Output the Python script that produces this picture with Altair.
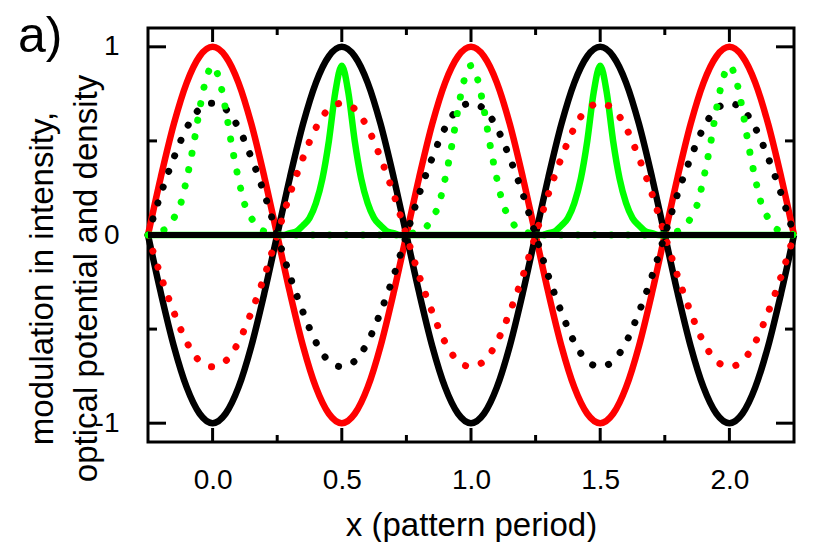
import altair as alt
import pandas as pd

# ---- sample positions (pattern period units) ----
x_coarse = [-0.25, -0.2, -0.15, -0.1, -0.05, 0.0, 0.05, 0.1, 0.15, 0.2,
            0.25, 0.3, 0.35, 0.4, 0.45, 0.5, 0.55, 0.6, 0.65, 0.7,
            0.75, 0.8, 0.85, 0.9, 0.95, 1.0, 1.05, 1.1, 1.15, 1.2,
            1.25, 1.3, 1.35, 1.4, 1.45, 1.5, 1.55, 1.6, 1.65, 1.7,
            1.75, 1.8, 1.85, 1.9, 1.95, 2.0, 2.05, 2.1, 2.15, 2.2,
            2.25]

red_solid = [0, 0.31, 0.59, 0.81, 0.95, 1.0, 0.95, 0.81, 0.59, 0.31,
             0, -0.31, -0.59, -0.81, -0.95, -1.0, -0.95, -0.81, -0.59, -0.31,
             0, 0.31, 0.59, 0.81, 0.95, 1.0, 0.95, 0.81, 0.59, 0.31,
             0, -0.31, -0.59, -0.81, -0.95, -1.0, -0.95, -0.81, -0.59, -0.31,
             0, 0.31, 0.59, 0.81, 0.95, 1.0, 0.95, 0.81, 0.59, 0.31,
             0]

black_solid = [0, -0.31, -0.59, -0.81, -0.95, -1.0, -0.95, -0.81, -0.59, -0.31,
               0, 0.31, 0.59, 0.81, 0.95, 1.0, 0.95, 0.81, 0.59, 0.31,
               0, -0.31, -0.59, -0.81, -0.95, -1.0, -0.95, -0.81, -0.59, -0.31,
               0, 0.31, 0.59, 0.81, 0.95, 1.0, 0.95, 0.81, 0.59, 0.31,
               0, -0.31, -0.59, -0.81, -0.95, -1.0, -0.95, -0.81, -0.59, -0.31,
               0]

red_dotted = [0, -0.22, -0.41, -0.57, -0.67, -0.70, -0.67, -0.57, -0.41, -0.22,
              0, 0.22, 0.41, 0.57, 0.67, 0.70, 0.67, 0.57, 0.41, 0.22,
              0, -0.22, -0.41, -0.57, -0.67, -0.70, -0.67, -0.57, -0.41, -0.22,
              0, 0.22, 0.41, 0.57, 0.67, 0.70, 0.67, 0.57, 0.41, 0.22,
              0, -0.22, -0.41, -0.57, -0.67, -0.70, -0.67, -0.57, -0.41, -0.22,
              0]

black_dotted = [0, 0.22, 0.41, 0.57, 0.67, 0.70, 0.67, 0.57, 0.41, 0.22,
                0, -0.22, -0.41, -0.57, -0.67, -0.70, -0.67, -0.57, -0.41, -0.22,
                0, 0.22, 0.41, 0.57, 0.67, 0.70, 0.67, 0.57, 0.41, 0.22,
                0, -0.22, -0.41, -0.57, -0.67, -0.70, -0.67, -0.57, -0.41, -0.22,
                0, 0.22, 0.41, 0.57, 0.67, 0.70, 0.67, 0.57, 0.41, 0.22,
                0]

x_fine = [-0.25, -0.225, -0.2, -0.175, -0.15, -0.125, -0.1, -0.075, -0.05, -0.025,
          0.0, 0.025, 0.05, 0.075, 0.1, 0.125, 0.15, 0.175, 0.2, 0.225,
          0.25, 0.275, 0.3, 0.325, 0.35, 0.375, 0.4, 0.425, 0.45, 0.475,
          0.5, 0.525, 0.55, 0.575, 0.6, 0.625, 0.65, 0.675, 0.7, 0.725,
          0.75, 0.775, 0.8, 0.825, 0.85, 0.875, 0.9, 0.925, 0.95, 0.975,
          1.0, 1.025, 1.05, 1.075, 1.1, 1.125, 1.15, 1.175, 1.2, 1.225,
          1.25, 1.275, 1.3, 1.325, 1.35, 1.375, 1.4, 1.425, 1.45, 1.475,
          1.5, 1.525, 1.55, 1.575, 1.6, 1.625, 1.65, 1.675, 1.7, 1.725,
          1.75, 1.775, 1.8, 1.825, 1.85, 1.875, 1.9, 1.925, 1.95, 1.975,
          2.0, 2.025, 2.05, 2.075, 2.1, 2.125, 2.15, 2.175, 2.2, 2.225,
          2.25]

green_dotted = [0, 0.01, 0.02, 0.04, 0.09, 0.16, 0.30, 0.47, 0.67, 0.83,
                0.90, 0.83, 0.67, 0.47, 0.30, 0.16, 0.09, 0.04, 0.02, 0.01,
                0, 0, 0, 0, 0, 0, 0, 0, 0, 0,
                0, 0, 0, 0, 0, 0, 0, 0, 0, 0,
                0, 0.01, 0.02, 0.04, 0.09, 0.16, 0.30, 0.47, 0.67, 0.83,
                0.90, 0.83, 0.67, 0.47, 0.30, 0.16, 0.09, 0.04, 0.02, 0.01,
                0, 0, 0, 0, 0, 0, 0, 0, 0, 0,
                0, 0, 0, 0, 0, 0, 0, 0, 0, 0,
                0, 0.01, 0.02, 0.04, 0.09, 0.16, 0.30, 0.47, 0.67, 0.83,
                0.90, 0.83, 0.67, 0.47, 0.30, 0.16, 0.09, 0.04, 0.02, 0.01,
                0]

green_solid = [0, 0, 0, 0, 0, 0, 0, 0, 0, 0,
               0, 0, 0, 0, 0, 0, 0, 0, 0, 0,
               0, 0, 0.01, 0.02, 0.05, 0.09, 0.17, 0.30, 0.50, 0.76,
               0.90, 0.76, 0.50, 0.30, 0.17, 0.09, 0.05, 0.02, 0.01, 0,
               0, 0, 0, 0, 0, 0, 0, 0, 0, 0,
               0, 0, 0, 0, 0, 0, 0, 0, 0, 0,
               0, 0, 0.01, 0.02, 0.05, 0.09, 0.17, 0.30, 0.50, 0.76,
               0.90, 0.76, 0.50, 0.30, 0.17, 0.09, 0.05, 0.02, 0.01, 0,
               0, 0, 0, 0, 0, 0, 0, 0, 0, 0,
               0, 0, 0, 0, 0, 0, 0, 0, 0, 0,
               0]

x_major_ticks = [0.0, 0.5, 1.0, 1.5, 2.0]
x_minor_ticks = [0.25, 0.75, 1.25, 1.75]
y_major_ticks = [-1, 0, 1]
y_minor_ticks = [-0.5, 0.5]

X_TITLE = "x (pattern period)"
Y_TITLE = ["modulation in intensity,", "optical potential and density"]
PANEL = "a)"

W, H = 646, 414
FONT = "Liberation Sans"
RED, BLACK, GREEN = "#ff0000", "#000000", "#00ff00"

xs = alt.Scale(domain=[-0.25, 2.25], nice=False, zero=False)
ys = alt.Scale(domain=[-1.1, 1.1], nice=False, zero=False)


def df(x, y):
    return pd.DataFrame({"x": x, "y": y})


x_axis = alt.Axis(values=x_major_ticks, format=".1f",
                  title=X_TITLE, titleY=93)
y_axis = alt.Axis(values=y_major_ticks,
                  labelExpr="datum.value < 0 ? '-' + format(-datum.value, 'd') : format(datum.value, 'd')",
                  title=Y_TITLE, titleX=-96, titleY=250)


def curve(x, y, color, dotted=False, first=False):
    if dotted:
        m = alt.Chart(df(x, y)).mark_line(color=color, strokeWidth=7,
                                          strokeDash=[0.1, 16.6],
                                          strokeCap="round",
                                          interpolate="monotone")
    else:
        m = alt.Chart(df(x, y)).mark_line(color=color, strokeWidth=6.5,
                                          interpolate="monotone")
    if first:
        return m.encode(x=alt.X("x:Q", scale=xs, axis=x_axis),
                        y=alt.Y("y:Q", scale=ys, axis=y_axis))
    return m.encode(x=alt.X("x:Q", scale=xs), y=alt.Y("y:Q", scale=ys))


zero_line = alt.Chart(pd.DataFrame({"y": [0]})).mark_rule(
    color=BLACK, strokeWidth=6).encode(y=alt.Y("y:Q", scale=ys))


def yticks(vals, length, side):
    x0 = 0 if side == "left" else W
    x1 = length if side == "left" else W - length
    return alt.Chart(pd.DataFrame({"y": vals})).mark_rule(
        color=BLACK, strokeWidth=3).encode(
        y=alt.Y("y:Q", scale=ys),
        x=alt.value(x0), x2=alt.value(x1))


def xticks(vals, length, side):
    y0 = H if side == "bottom" else 0
    y1 = H - length if side == "bottom" else length
    return alt.Chart(pd.DataFrame({"x": vals})).mark_rule(
        color=BLACK, strokeWidth=3).encode(
        x=alt.X("x:Q", scale=xs),
        y=alt.value(y0), y2=alt.value(y1))


layers = [
    curve(x_coarse, red_solid, RED, first=True),
    curve(x_coarse, black_solid, BLACK),
    curve(x_fine, green_solid, GREEN),
    curve(x_coarse, red_dotted, RED, dotted=True),
    curve(x_coarse, black_dotted, BLACK, dotted=True),
    curve(x_fine, green_dotted, GREEN, dotted=True),
    zero_line,
    yticks(y_major_ticks, 18, "left"),
    yticks(y_minor_ticks, 9, "left"),
    yticks(y_major_ticks, 18, "right"),
    yticks(y_minor_ticks, 9, "right"),
    xticks(x_major_ticks, 14, "bottom"),
    xticks(x_minor_ticks, 7, "bottom"),
    xticks(x_major_ticks, 14, "top"),
    xticks(x_minor_ticks, 7, "top"),
]

chart = alt.layer(*layers).properties(
    width=W, height=H,
    autosize=alt.AutoSizeParams(type="none"),
    padding={"left": 140, "top": 20, "right": 28, "bottom": 100},
    title=alt.Title(PANEL, font=FONT, fontSize=50, fontWeight="normal",
                    color="black", anchor="start", frame="group",
                    baseline="alphabetic", offset=0, dx=-130, dy=75),
).configure_view(
    stroke="black", strokeWidth=3
).configure_axis(
    ticks=False, tickSize=0, domain=False, grid=False,
    labelFont=FONT, labelFontSize=28, labelColor="black",
    labelOverlap=False, labelFlush=False,
    titleFont=FONT, titleFontSize=33, titleFontWeight="normal",
    titleColor="black", titleBaseline="alphabetic", titleAlign="center",
).configure_axisX(
    labelPadding=24
).configure_axisY(
    labelPadding=29, titleAngle=270, titleLineHeight=44
)

chart.save("out.html", embed_options={"renderer": "svg", "actions": False})
